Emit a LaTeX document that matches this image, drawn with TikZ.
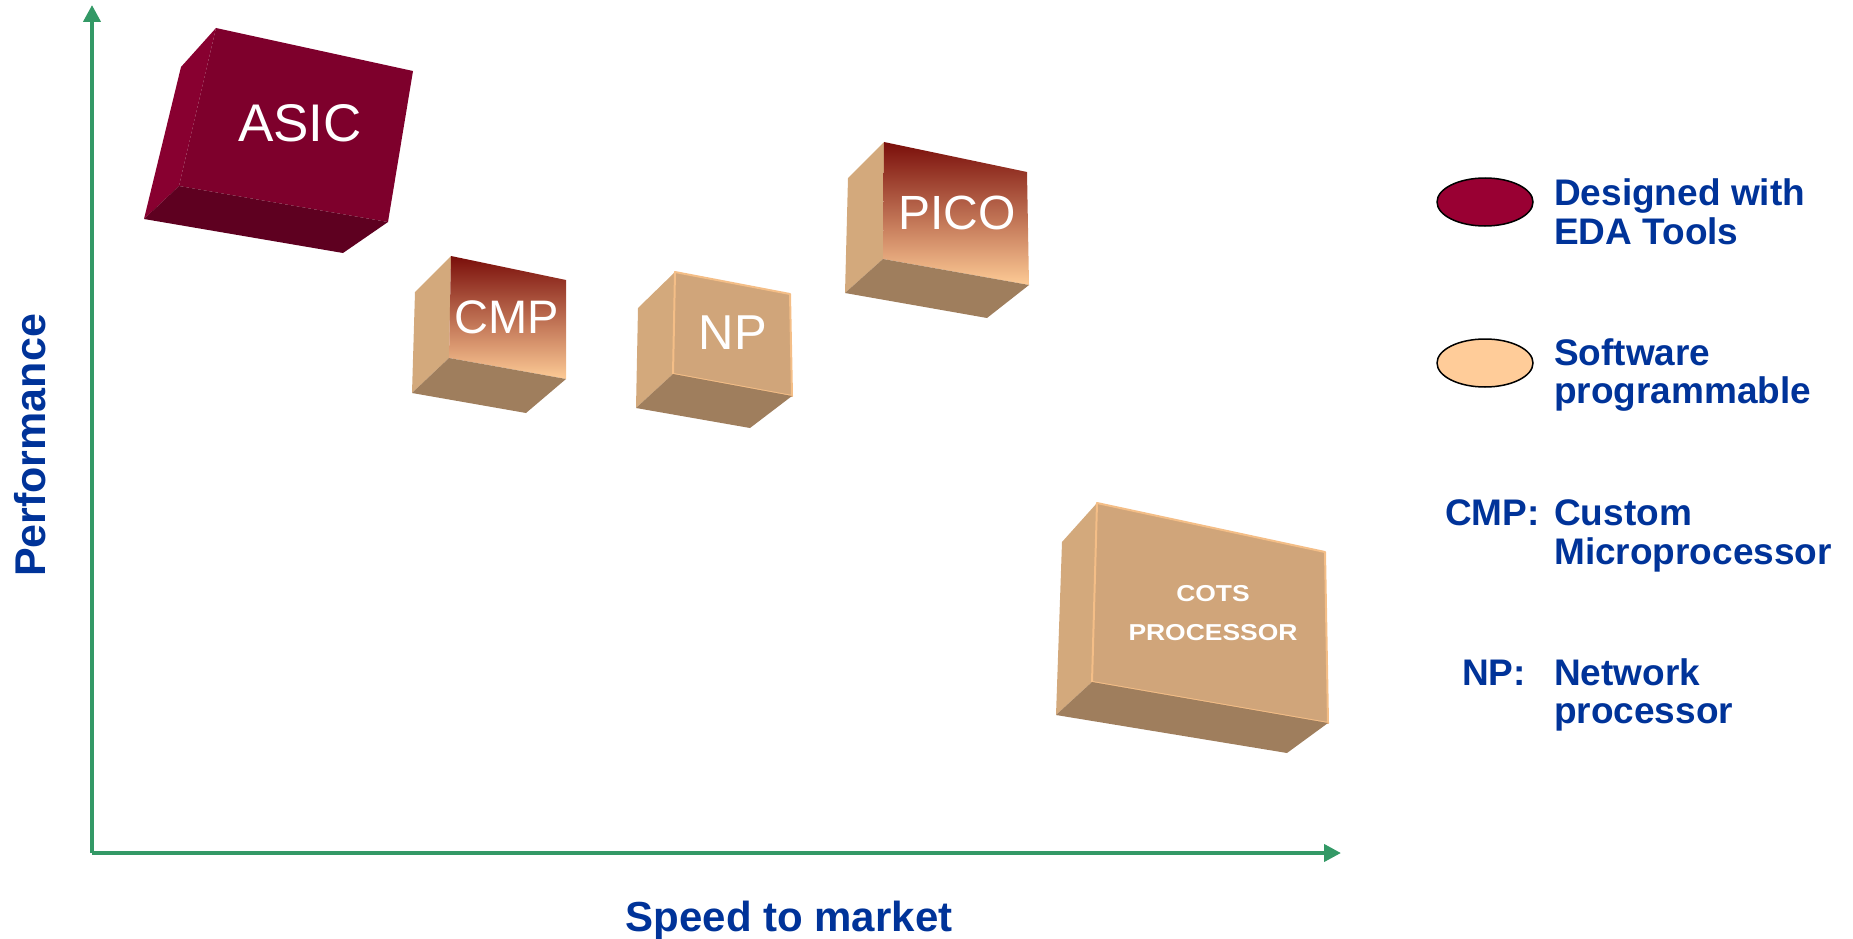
\documentclass[tikz,border=0pt]{standalone}
\usepackage{fontspec}
\usepackage{graphicx}
\setmainfont{Liberation Sans}
\usetikzlibrary{arrows.meta,shapes.geometric}

% palette
\definecolor{axisgreen}{RGB}{51,153,102}
\definecolor{labelblue}{RGB}{0,51,153}
\definecolor{asicfront}{RGB}{126,0,44}
\definecolor{asicside}{RGB}{136,0,48}
\definecolor{asicbottom}{RGB}{94,0,32}
\definecolor{tanfront}{RGB}{208,165,122}
\definecolor{tanside}{RGB}{211,169,124}
\definecolor{tanbottom}{RGB}{159,126,93}
\definecolor{tanedge}{RGB}{244,190,135}
\definecolor{gradtop}{RGB}{122,14,10}
\definecolor{gradmid}{RGB}{196,130,96}
\definecolor{gradbottom}{RGB}{253,203,150}
\definecolor{edared}{RGB}{153,0,51}
\definecolor{swpeach}{RGB}{255,204,153}

\begin{document}
\begin{tikzpicture}[x=1pt,y=-1pt,
  axis/.style={draw=axisgreen, line width=4pt, -{Triangle[length=17pt,width=17pt]}},
  boxlabel/.style={text=white, inner sep=0pt, anchor=center},
  legtext/.style={text=labelblue, inner sep=0pt, anchor=base west,
    font=\fontsize{37}{39}\selectfont\bfseries},
  legmark/.style={draw=black, line width=1.5pt, ellipse, minimum width=96pt,
    minimum height=48pt, inner sep=0pt},
  asicface/.style={fill=#1},
  tanface/.style={fill=#1},
  gradface/.style={top color=gradtop, middle color=gradmid, bottom color=gradbottom},
  rimmed/.style={draw=tanedge, line width=2pt, line join=round}
]
\useasboundingbox (0,0) rectangle (1853,939);

% axes
\coordinate (origin) at (92,853);
\coordinate (ytip) at (92,5);
\coordinate (xtip) at (1341,853);
\draw[axis] (origin) -- (ytip);
\draw[axis] (origin) -- (xtip);

\node[text=labelblue, inner sep=0pt, anchor=base, rotate=90,
  font=\fontsize{43}{46}\selectfont\bfseries] (ylabel) at (45,445.5) {Performance};
\node[text=labelblue, inner sep=0pt, anchor=base,
  font=\fontsize{42}{45}\selectfont\bfseries] (xlabel) at (789,931.5) {Speed to market};

% ASIC block
\fill[asicface=asicside] (216,28) -- (181,67) -- (144,219) -- (179,186) -- cycle;
\fill[asicface=asicfront] (216,28) -- (413,71) -- (388,222) -- (179,186) -- cycle;
\fill[asicface=asicbottom] (179,186) -- (388,222) -- (343,253) -- (144,219) -- cycle;
\node[boxlabel, font=\fontsize{53}{60}\selectfont] (asic) at (300,123) {ASIC};

% CMP block
\fill[tanface=tanside] (451,256) -- (415,292) -- (412,393) -- (449,358) -- cycle;
\shade[gradface] (451,256) -- (566,280) -- (566,379) -- (449,358) -- cycle;
\fill[tanface=tanbottom] (449,358) -- (566,379) -- (526,413) -- (412,393) -- cycle;
\node[boxlabel, font=\fontsize{47}{52}\selectfont] (cmp) at (507,317) {CMP};

% NP block
\fill[tanface=tanside] (675,272) -- (638,308) -- (636,408) -- (673,374) -- cycle;
\fill[tanface=tanfront] (675,272) -- (790,294) -- (792,396) -- (673,374) -- cycle;
\draw[rimmed] (675,272) -- (790,294) -- (792,396) -- (673,374) -- cycle;
\fill[tanface=tanbottom] (673,374) -- (792,396) -- (750,428) -- (636,408) -- cycle;
\node[boxlabel, font=\fontsize{49}{54}\selectfont] (np) at (733,333) {NP};

% PICO block
\fill[tanface=tanside] (884,142) -- (848,178) -- (845,293) -- (883,259) -- cycle;
\shade[gradface] (884,142) -- (1027,172) -- (1029,285) -- (883,259) -- cycle;
\fill[tanface=tanbottom] (883,259) -- (1029,285) -- (987,318) -- (845,293) -- cycle;
\node[boxlabel, font=\fontsize{48}{53}\selectfont] (pico) at (957,213) {PICO};

% COTS processor block
\fill[tanface=tanside] (1097,503) -- (1062,542) -- (1056,715) -- (1092,682) -- cycle;
\fill[tanface=tanfront] (1097,503) -- (1325,552) -- (1328,723) -- (1092,682) -- cycle;
\draw[rimmed] (1097,503) -- (1325,552) -- (1328,723) -- (1092,682) -- cycle;
\fill[tanface=tanbottom] (1092,682) -- (1328,723) -- (1287,753) -- (1056,715) -- cycle;
\node[boxlabel, font=\fontsize{23}{26}\selectfont\bfseries] (cots1) at (1213,594) {\scalebox{1.15}[1]{COTS}};
\node[boxlabel, font=\fontsize{23}{26}\selectfont\bfseries] (cots2) at (1213,633) {\scalebox{1.15}[1]{PROCESSOR}};

% legend
\node[legmark, fill=edared] (keyeda) at (1485,202) {};
\node[legtext] (eda1) at (1554,205) {Designed with};
\node[legtext] (eda2) at (1554,244) {EDA Tools};

\node[legmark, fill=swpeach] (keysw) at (1485,363) {};
\node[legtext] (sw1) at (1554,365) {Software};
\node[legtext] (sw2) at (1554,403) {programmable};

\node[legtext] (cmpkey) at (1445,525) {CMP:};
\node[legtext] (cmp1) at (1554,525) {Custom};
\node[legtext] (cmp2) at (1554,564) {Microprocessor};

\node[legtext] (npkey) at (1462,685) {NP:};
\node[legtext] (np1) at (1554,685) {Network};
\node[legtext] (np2) at (1554,723) {processor};
\end{tikzpicture}
\end{document}
